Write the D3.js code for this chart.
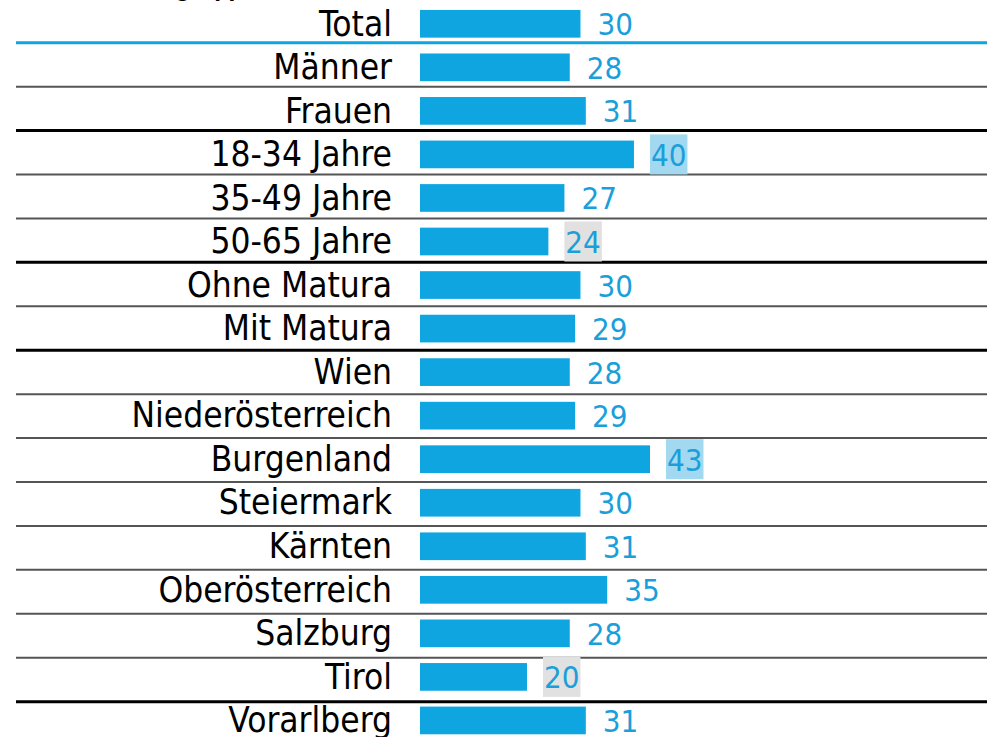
<!DOCTYPE html>
<html>
<head>
<meta charset="utf-8">
<script src="https://cdn.jsdelivr.net/npm/d3@7"></script>
<style>
  html, body { margin: 0; padding: 0; background: #fff; overflow: hidden; }
  svg { display: block; }
</style>
</head>
<body>
<svg id="chart" width="987" height="737"></svg>
<script>
const categories = ["Total","Männer","Frauen","18-34 Jahre","35-49 Jahre","50-65 Jahre","Ohne Matura","Mit Matura","Wien","Niederösterreich","Burgenland","Steiermark","Kärnten","Oberösterreich","Salzburg","Tirol","Vorarlberg"];
const values = [30,28,31,40,27,24,30,29,28,29,43,30,31,35,28,20,31];
// highlight: "high" = significantly above, "low" = significantly below
const highlights = ["","","","high","","low","","","","","high","","","","","low",""];
// separator after row: "blue", "black" (group boundary) or "grey"
const separators = ["blue","grey","black","grey","grey","black","grey","black","grey","grey","grey","grey","grey","grey","grey","black"];
const title = "Zielgruppen";

const W = 987, H = 737;
const svg = d3.select("#chart");
const fontFam = "'DejaVu Sans Condensed', 'DejaVu Sans', sans-serif";

// bar band scale
const barStep = 43.54, barStart = 23.8 - barStep / 2;
const y = d3.scaleBand().domain(categories)
  .range([barStart, barStart + barStep * categories.length])
  .paddingInner(0.364).paddingOuter(0.182);
// row grid scale (separator lines)
const rowStep = 43.93, rowStart = 42.7 - rowStep;
const yRow = d3.scaleBand().domain(categories)
  .range([rowStart, rowStart + rowStep * categories.length]).padding(0);

const x = d3.scaleLinear().domain([0, 43]).range([420, 650]);

const colorBar = "#0ea5e0", colorTxt = "#1a9fda";

// title (clipped at top)
svg.append("text").attr("x", 135).attr("y", -3)
  .attr("font-family", fontFam).attr("font-weight", "bold").attr("font-size", 22)
  .attr("fill", "#000").text(title);

// separators
separators.forEach((s, i) => {
  const yy = yRow(categories[i + 1]);
  svg.append("line").attr("x1", 16).attr("x2", W).attr("y1", yy).attr("y2", yy)
    .attr("stroke", s === "blue" ? colorBar : (s === "black" ? "#000" : "#555"))
    .attr("stroke-width", s === "grey" ? 2 : 3);
});

const rows = svg.selectAll("g.row").data(categories).join("g").attr("class", "row");

rows.append("rect")
  .attr("x", x(0))
  .attr("y", d => y(d))
  .attr("width", (d, i) => x(values[i]) - x(0))
  .attr("height", y.bandwidth())
  .attr("fill", colorBar);

rows.append("text")
  .attr("x", 392)
  .attr("y", d => y(d) + y.bandwidth() / 2 + 11.7)
  .attr("text-anchor", "end")
  .attr("font-family", fontFam).attr("font-size", 35).attr("fill", "#000")
  .text(d => d);

rows.each(function(d, i) {
  const g = d3.select(this);
  const tx = x(values[i]) + 17;
  const cy = y(d) + y.bandwidth() / 2;
  let bg = null;
  if (highlights[i]) {
    bg = g.append("rect").attr("fill", highlights[i] === "high" ? "#a3d8f1" : "#e1e1e1");
  }
  const t = g.append("text")
    .attr("x", tx).attr("y", cy + 11.5)
    .attr("font-family", fontFam).attr("font-size", 31).attr("fill", colorTxt)
    .text(values[i]);
  if (bg) {
    const bb = t.node().getBBox();
    bg.attr("x", tx - 1).attr("y", cy - 20).attr("width", bb.width + 2).attr("height", 40);
  }
});
</script>
</body>
</html>
